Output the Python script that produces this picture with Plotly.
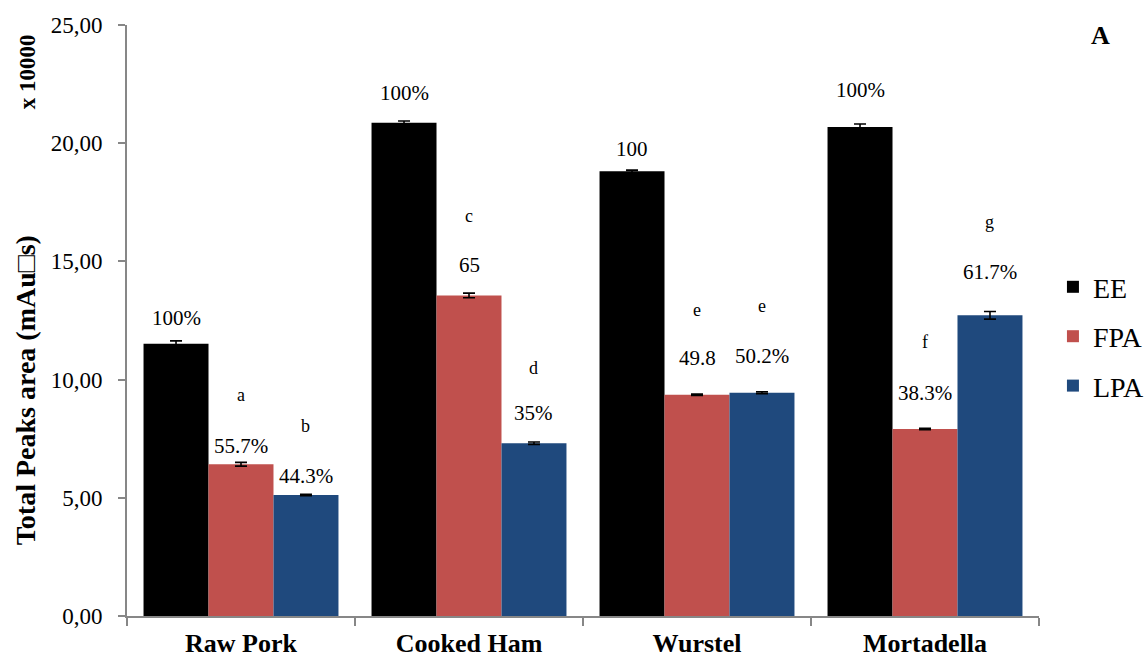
import plotly.graph_objects as go

# Sample types on the x axis
categories = ["Raw Pork", "Cooked Ham", "Wurstel", "Mortadella"]

# Total peak areas (x 10000 mAu·s) and their standard deviations
ee_values = [11.52, 20.86, 18.81, 20.68]
ee_errors = [0.12, 0.08, 0.05, 0.13]
fpa_values = [6.42, 13.56, 9.36, 7.91]
fpa_errors = [0.08, 0.10, 0.03, 0.03]
lpa_values = [5.12, 7.31, 9.44, 12.72]
lpa_errors = [0.03, 0.05, 0.04, 0.16]

# Relative-amount labels and significance letters
ee_labels = ["100%", "100%", "100", "100%"]
fpa_labels = ["55.7%", "65", "49.8", "38.3%"]
lpa_labels = ["44.3%", "35%", "50.2%", "61.7%"]
fpa_letters = ["a", "c", "e", "f"]
lpa_letters = ["b", "d", "e", "g"]

y_ticks = [0, 5, 10, 15, 20, 25]

FONT = "Liberation Serif, Times New Roman, serif"
AXIS_GREY = "#878787"
BARGAP = 0.145

series = [
    ("EE", ee_values, ee_errors, "#000000"),
    ("FPA", fpa_values, fpa_errors, "#C0504D"),
    ("LPA", lpa_values, lpa_errors, "#1F497D"),
]

fig = go.Figure()
for name, vals, errs, color in series:
    fig.add_trace(go.Bar(
        name=name,
        x=categories,
        y=vals,
        marker=dict(color=color, line=dict(width=0)),
        error_y=dict(type="data", array=errs, visible=True,
                     color="#000000", thickness=1.6, width=6),
        legendgroup=name,
    ))

# Bar centre offsets within each group (category units)
bar_w = (1 - BARGAP) / 3
offsets = [-bar_w, 0.0, bar_w]

# Pixel offsets of the labels above each bar top
ee_shift = [26, 30, 22, 37]
fpa_shift = [18, 30, 37, 36]
lpa_shift = [19, 30, 37, 43]
fpa_letter_shift = [69, 79, 85, 87]
lpa_letter_shift = [69, 75, 87, 93]

annotations = []


def add_label(xi, yv, text, shift, size):
    annotations.append(dict(
        x=xi, y=yv, xref="x", yref="y", text=text, showarrow=False,
        yshift=shift, xanchor="center", yanchor="middle",
        font=dict(family=FONT, size=size, color="#000000"),
    ))


for k in range(len(categories)):
    add_label(k + offsets[0], ee_values[k], ee_labels[k], ee_shift[k], 21)
    add_label(k + offsets[1], fpa_values[k], fpa_labels[k], fpa_shift[k], 21)
    add_label(k + offsets[2], lpa_values[k], lpa_labels[k], lpa_shift[k], 21)
    add_label(k + offsets[1], fpa_values[k], fpa_letters[k], fpa_letter_shift[k], 18)
    add_label(k + offsets[2], lpa_values[k], lpa_letters[k], lpa_letter_shift[k], 18)

# Axis title and display-unit label
annotations.append(dict(
    x=0, y=0.382, xref="paper", yref="paper", xshift=-102,
    text="<b>Total Peaks area (mAu□s)</b>", showarrow=False, textangle=-90,
    xanchor="center", yanchor="middle",
    font=dict(family=FONT, size=28, color="#000000"),
))
annotations.append(dict(
    x=0, y=0.92, xref="paper", yref="paper", xshift=-100,
    text="<b>x 10000</b>", showarrow=False, textangle=-90,
    xanchor="center", yanchor="middle",
    font=dict(family=FONT, size=23, color="#000000"),
))
# Panel letter
annotations.append(dict(
    x=1, y=1, xref="paper", yref="paper", xshift=61, yshift=-10,
    text="<b>A</b>", showarrow=False,
    xanchor="center", yanchor="middle",
    font=dict(family=FONT, size=26, color="#000000"),
))

fig.update_layout(
    width=1147, height=660,
    margin=dict(l=127, r=108, t=25, b=44),
    paper_bgcolor="white", plot_bgcolor="white",
    barmode="group", bargap=BARGAP, bargroupgap=0,
    separators=",.",
    font=dict(family=FONT, size=20, color="#000000"),
    showlegend=True,
    legend=dict(
        xref="container", yref="container",
        x=0.918, y=0.49, xanchor="left", yanchor="middle",
        font=dict(family=FONT, size=28, color="#000000"),
        traceorder="grouped", tracegroupgap=10,
        itemwidth=30, bgcolor="rgba(0,0,0,0)",
    ),
    annotations=annotations,
)

fig.update_xaxes(
    type="category",
    tickvals=categories,
    ticktext=[f"<b>{c}</b>" for c in categories],
    showline=True, linecolor=AXIS_GREY, linewidth=2,
    ticks="outside", tickson="boundaries", ticklen=8,
    tickcolor=AXIS_GREY, tickwidth=2,
    tickfont=dict(family=FONT, size=26, color="#000000"),
    ticklabelstandoff=3,
    automargin=False,
    showgrid=False, zeroline=False,
)
fig.update_yaxes(
    range=[0, 25], tickvals=y_ticks, tickformat=".2f",
    showline=True, linecolor=AXIS_GREY, linewidth=2,
    ticks="outside", ticklen=7, tickcolor=AXIS_GREY, tickwidth=2,
    tickfont=dict(family=FONT, size=23, color="#000000"),
    ticklabelstandoff=11,
    automargin=False,
    showgrid=False, zeroline=False,
)

fig.write_html("out.html")
